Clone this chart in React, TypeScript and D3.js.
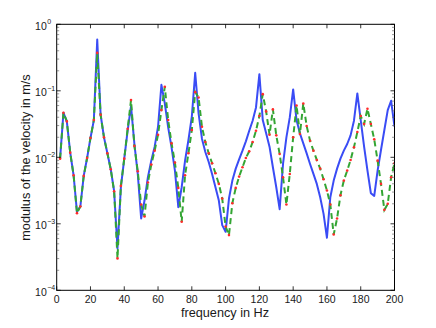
import React from "react";
import * as d3 from "d3";

const freqs = [
  2, 4, 6, 8, 10, 12, 14, 16, 18, 20, 22, 24, 26, 28, 30, 32, 34, 36, 38, 40,
  42, 44, 46, 48, 50, 52, 54, 56, 58, 60, 62, 64, 66, 68, 70, 72, 74, 76, 78, 80,
  82, 84, 86, 88, 90, 92, 94, 96, 98, 100, 102, 104, 106, 108, 110, 112, 114, 116, 118, 120,
  122, 124, 126, 128, 130, 132, 134, 136, 138, 140, 142, 144, 146, 148, 150, 152, 154, 156, 158, 160,
  162, 164, 166, 168, 170, 172, 174, 176, 178, 180, 182, 184, 186, 188, 190, 192, 194, 196, 198, 200,
];

// log10 of velocity modulus
const blueLog10 = [
  -2.02, -1.33, -1.46, -1.93, -2.27, -2.82, -2.74, -2.28, -2.01, -1.71,
  -1.44, -0.23, -1.36, -1.70, -1.94, -2.18, -2.51, -3.37, -2.45, -2.02,
  -1.60, -1.23, -1.80, -2.25, -2.92, -2.65, -2.30, -2.05, -1.84, -1.54,
  -0.91, -1.19, -1.55, -1.85, -2.20, -2.75, -2.45, -2.05, -1.74, -1.39,
  -0.73, -1.34, -1.72, -1.92, -2.07, -2.25, -2.45, -2.65, -3.02, -3.12,
  -2.62, -2.35, -2.17, -2.03, -1.90, -1.76, -1.60, -1.45, -1.25, -0.75,
  -1.44, -1.64, -1.84, -2.15, -2.45, -2.78, -2.10, -1.70, -1.40, -0.98,
  -1.44, -1.64, -1.79, -1.94, -2.10, -2.25, -2.40, -2.60, -2.85, -3.21,
  -2.60, -2.35, -2.17, -2.02, -1.90, -1.80, -1.67, -1.45, -1.04, -1.44,
  -1.84, -2.20, -2.54, -2.58, -2.20, -1.89, -1.59, -1.29, -1.15, -1.54,
];

const greenLog10 = [
  -2.02, -1.33, -1.46, -1.93, -2.27, -2.84, -2.74, -2.28, -2.01, -1.71,
  -1.44, -0.43, -1.36, -1.70, -1.94, -2.18, -2.51, -3.52, -2.43, -2.02,
  -1.57, -1.14, -1.83, -2.21, -2.71, -2.89, -2.38, -2.11, -1.90, -1.66,
  -1.29, -0.94, -1.44, -1.79, -2.08, -2.46, -2.97, -2.27, -1.94, -1.59,
  -1.02, -1.10, -1.54, -1.77, -1.94, -2.09, -2.24, -2.40, -2.62, -3.04,
  -3.17, -2.69, -2.46, -2.29, -2.15, -2.01, -1.91, -1.77, -1.60, -1.38,
  -1.05, -1.31, -1.66, -1.28, -1.67, -1.95, -2.30, -2.71, -2.25, -1.70,
  -1.22, -1.65, -1.19, -1.53, -1.75, -1.90, -2.04, -2.17, -2.33, -2.50,
  -2.71, -3.16, -2.92, -2.57, -2.35, -2.20, -2.04, -1.85, -1.62, -1.38,
  -1.50, -1.27, -1.50, -1.73, -2.05, -2.40, -2.79, -2.70, -2.30, -2.09,
];

const redLog10 = greenLog10;

const xTicks = [0, 20, 40, 60, 80, 100, 120, 140, 160, 180, 200];
const yDecades = [0, -1, -2, -3, -4];

const W = 436;
const H = 328;
const L = 56.7;
const R = 394.5;
const T = 24.3;
const B = 290.3;

export default function App() {
  const x = d3.scaleLinear().domain([0, 200]).range([L, R]);
  const y = d3.scaleLog().domain([1e-4, 1]).range([B, T]);

  const mk = (arr: number[]) =>
    d3
      .line<number>()
      .x((_, i) => x(freqs[i]))
      .y((v) => y(Math.pow(10, v)))(arr) as string;

  const minor: number[] = [];
  for (let e = -4; e < 0; e++) {
    for (let m = 2; m <= 9; m++) minor.push(m * Math.pow(10, e));
  }

  const font = "'Liberation Sans', Arial, Helvetica, sans-serif";
  const tc = "#1a1a1a";

  return (
    <div style={{ position: "fixed", left: 0, top: 0 }}>
      <svg width={W} height={H} style={{ display: "block", background: "#fff" }}>
        <defs>
          <clipPath id="plotclip">
            <rect x={L} y={T} width={R - L} height={B - T} />
          </clipPath>
        </defs>
        <g clipPath="url(#plotclip)">
          <path d={mk(blueLog10)} fill="none" stroke="#3a4cf5" strokeWidth={2} strokeLinejoin="round" />
          <path d={mk(greenLog10)} fill="none" stroke="#33a533" strokeWidth={2} strokeDasharray="6,4" />
          {redLog10.map((v, i) => (
            <circle key={i} cx={x(freqs[i])} cy={y(Math.pow(10, v))} r={1.3} fill="#ff2a2a" />
          ))}
        </g>
        <rect x={L} y={T} width={R - L} height={B - T} fill="none" stroke="#000" strokeWidth={1} />
        {xTicks.map((t) => (
          <g key={"x" + t}>
            <line x1={x(t)} x2={x(t)} y1={B} y2={B - 4} stroke="#000" strokeWidth={0.8} />
            <line x1={x(t)} x2={x(t)} y1={T} y2={T + 4} stroke="#000" strokeWidth={0.8} />
            <text x={x(t)} y={303} textAnchor="middle" fontSize={10.5} fontFamily={font} fill={tc}>
              {t}
            </text>
          </g>
        ))}
        {yDecades.map((e) => (
          <g key={"y" + e}>
            <line x1={L} x2={L + 4} y1={y(Math.pow(10, e))} y2={y(Math.pow(10, e))} stroke="#000" strokeWidth={0.8} />
            <line x1={R} x2={R - 4} y1={y(Math.pow(10, e))} y2={y(Math.pow(10, e))} stroke="#000" strokeWidth={0.8} />
            <text x={46.8} y={y(Math.pow(10, e)) + 5.5} textAnchor="end" fontSize={10.5} fontFamily={font} fill={tc}>
              10
            </text>
            <text x={47.2} y={y(Math.pow(10, e)) - 0.3} textAnchor="start" fontSize={7} fontFamily={font} fill={tc}>
              {e === 0 ? "0" : "\u2212" + Math.abs(e)}
            </text>
          </g>
        ))}
        {minor.map((m, i) => (
          <g key={"m" + i}>
            <line x1={L} x2={L + 2.5} y1={y(m)} y2={y(m)} stroke="#555" strokeWidth={0.6} />
            <line x1={R} x2={R - 2.5} y1={y(m)} y2={y(m)} stroke="#555" strokeWidth={0.6} />
          </g>
        ))}
        <text x={225} y={317} textAnchor="middle" fontSize={12.7} fontFamily={font} fill={tc}>
          frequency in Hz
        </text>
        <text
          transform={`translate(29.5,157.5) rotate(-90)`}
          textAnchor="middle"
          fontSize={12.7}
          fontFamily={font}
          fill={tc}
        >
          modulus of the velocity in m/s
        </text>
      </svg>
    </div>
  );
}
